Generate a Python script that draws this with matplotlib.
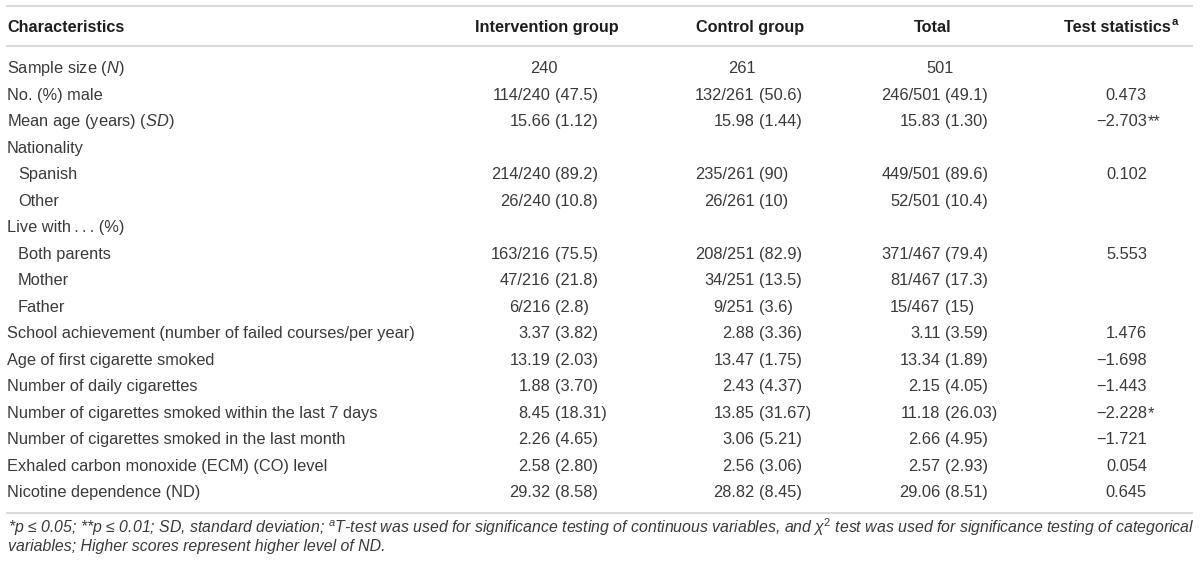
import matplotlib
matplotlib.use("Agg")
import matplotlib.pyplot as plt
from matplotlib import font_manager

# ---------------- data ----------------
columns = ["Characteristics", "Intervention group", "Control group", "Total", "Test statistics"]
characteristics = [
    "Sample size ($\\mathit{N}$)",
    "No. (%) male",
    "Mean age (years) ($\\mathit{SD}$)",
    "Nationality",
    "Spanish",
    "Other",
    "Live with\u2009.\u2009.\u2009. (%)",
    "Both parents",
    "Mother",
    "Father",
    "School achievement (number of failed courses/per year)",
    "Age of first cigarette smoked",
    "Number of daily cigarettes",
    "Number of cigarettes smoked within the last 7 days",
    "Number of cigarettes smoked in the last month",
    "Exhaled carbon monoxide (ECM) (CO) level",
    "Nicotine dependence (ND)",
]
indented = [False, False, False, False, True, True, False, True, True, True,
            False, False, False, False, False, False, False]
intervention = ["240", "114/240 (47.5)", "15.66 (1.12)", "", "214/240 (89.2)", "26/240 (10.8)", "",
                "163/216 (75.5)", "47/216 (21.8)", "6/216 (2.8)", "3.37 (3.82)", "13.19 (2.03)",
                "1.88 (3.70)", "8.45 (18.31)", "2.26 (4.65)", "2.58 (2.80)", "29.32 (8.58)"]
control = ["261", "132/261 (50.6)", "15.98 (1.44)", "", "235/261 (90)", "26/261 (10)", "",
           "208/251 (82.9)", "34/251 (13.5)", "9/251 (3.6)", "2.88 (3.36)", "13.47 (1.75)",
           "2.43 (4.37)", "13.85 (31.67)", "3.06 (5.21)", "2.56 (3.06)", "28.82 (8.45)"]
total = ["501", "246/501 (49.1)", "15.83 (1.30)", "", "449/501 (89.6)", "52/501 (10.4)", "",
         "371/467 (79.4)", "81/467 (17.3)", "15/467 (15)", "3.11 (3.59)", "13.34 (1.89)",
         "2.15 (4.05)", "11.18 (26.03)", "2.66 (4.95)", "2.57 (2.93)", "29.06 (8.51)"]
test_stat = ["", "0.473", "\u22122.703**", "", "0.102", "", "", "5.553", "", "", "1.476",
             "\u22121.698", "\u22121.443", "\u22122.228*", "\u22121.721", "0.054", "0.645"]
footnote_1 = ("*p \u2264 0.05; **p \u2264 0.01; SD, standard deviation; $^{\\mathit{a}}$T-test was used for "
              "significance testing of continuous variables, and \u03c7$^{2}$ test was used for "
              "significance testing of categorical")
footnote_2 = "variables; Higher scores represent higher level of ND."

# ---------------- style ----------------
names = {f.name for f in font_manager.fontManager.ttflist}
FONT = "Liberation Sans" if "Liberation Sans" in names else "DejaVu Sans"
plt.rcParams["font.family"] = [FONT, "DejaVu Sans"]
plt.rcParams["mathtext.fontset"] = "custom"
plt.rcParams["mathtext.rm"] = FONT
plt.rcParams["mathtext.it"] = FONT + ":italic"
plt.rcParams["mathtext.bf"] = FONT + ":bold"

W, H = 1200, 568
fig = plt.figure(figsize=(W / 100, H / 100), dpi=100)
ax = fig.add_axes([0, 0, 1, 1])
ax.set_xlim(0, W)
ax.set_ylim(H, 0)
ax.axis("off")
renderer = fig.canvas.get_renderer()

BODY = "#3a3a3a"
HEAD = "#1e1e1e"
LINE = "#dadada"
FS = 11.8
FS_HEAD = 11.7

# horizontal rules
for y in (5.5, 45.5, 512.5):
    ax.plot([6, 1193], [y, y], color=LINE, lw=1.5, solid_capstyle="butt")

# header
hy = 26 + 5.8
ax.text(7, hy, columns[0], ha="left", va="baseline", fontsize=FS_HEAD, fontweight="bold", color=HEAD)
ax.text(547, hy, columns[1], ha="center", va="baseline", fontsize=FS_HEAD, fontweight="bold", color=HEAD)
ax.text(750, hy, columns[2], ha="center", va="baseline", fontsize=FS_HEAD, fontweight="bold", color=HEAD)
ax.text(933, hy, columns[3], ha="center", va="baseline", fontsize=FS_HEAD, fontweight="bold", color=HEAD)
ax.text(1171, hy, columns[4], ha="right", va="baseline", fontsize=FS_HEAD, fontweight="bold", color=HEAD)
ax.text(1172, hy - 6.5, "a", ha="left", va="baseline", fontsize=FS_HEAD * 0.7, fontweight="bold", color=HEAD)

# rows
y0, dy = 67.5, 26.5
paren_x = [555, 759, 945]
sample_x = [544, 742, 940]
test_x = 1147
for i, lab in enumerate(characteristics):
    yb = y0 + i * dy + 5.8
    ax.text(18 if indented[i] else 7, yb, lab, ha="left", va="baseline", fontsize=FS, color=BODY)
    for c, col in enumerate((intervention, control, total)):
        v = col[i]
        if not v:
            continue
        if " (" in v:
            main, sd = v.split(" (", 1)
            ax.text(paren_x[c] - 4.6, yb, main, ha="right", va="baseline", fontsize=FS, color=BODY)
            ax.text(paren_x[c], yb, "(" + sd, ha="left", va="baseline", fontsize=FS, color=BODY)
        else:
            ax.text(sample_x[c], yb, v, ha="center", va="baseline", fontsize=FS, color=BODY)
    t = test_stat[i]
    if t:
        num = t.rstrip("*")
        stars = t[len(num):]
        ax.text(test_x, yb, num, ha="right", va="baseline", fontsize=FS, color=BODY)
        if stars:
            ax.text(test_x + 0.5, yb, stars, ha="left", va="baseline", fontsize=FS, color=BODY)

# footnotes, size fitted to the reference line width
fsz = 10.0
t1 = ax.text(8, 533, footnote_1, ha="left", va="baseline", fontsize=fsz, style="italic", color=BODY)
w = t1.get_window_extent(renderer).width
fsz = fsz * 1182 / w
t1.set_fontsize(fsz)
ax.text(8, 551, footnote_2, ha="left", va="baseline", fontsize=fsz, style="italic", color=BODY)

fig.savefig("out.png", dpi=100)
